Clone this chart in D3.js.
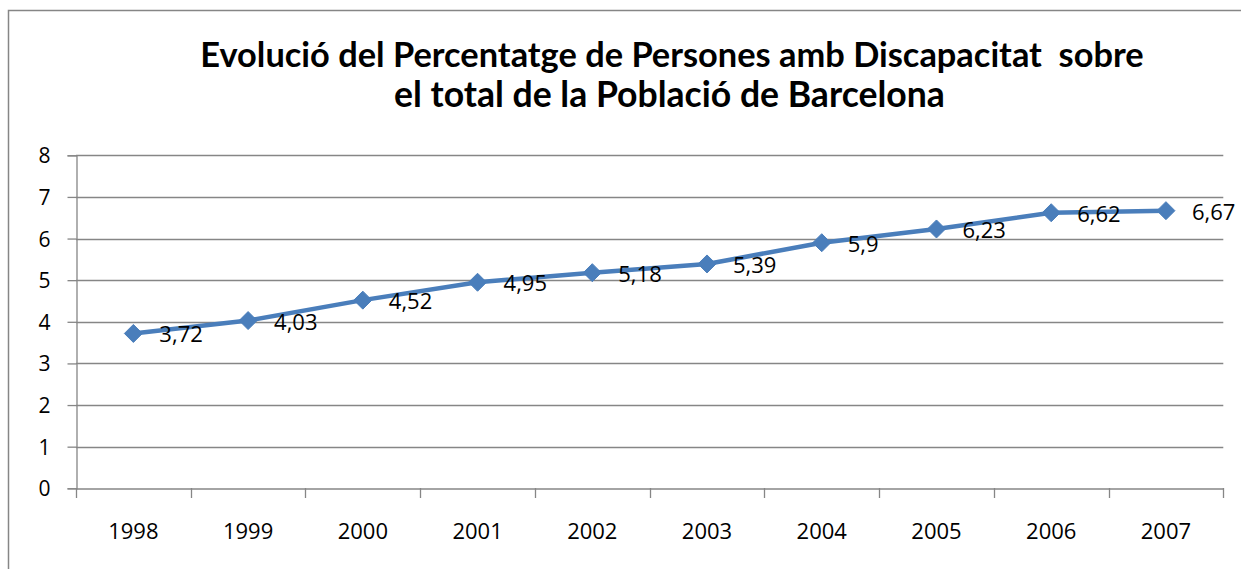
<!DOCTYPE html>
<html>
<head>
<meta charset="utf-8">
<script src="https://cdn.jsdelivr.net/npm/d3@7"></script>
<style>
html,body{margin:0;padding:0;background:#fff;}
svg{display:block;}
text{font-family:"Open Sans","Noto Sans",sans-serif;fill:#000;}
</style>
</head>
<body>
<svg id="chart" width="1241" height="569"></svg>
<script>
const titleLines = ["Evolució del Percentatge de Persones amb Discapacitat  sobre", "el total de la Població de Barcelona"];
const years = ["1998","1999","2000","2001","2002","2003","2004","2005","2006","2007"];
const values = [3.72, 4.03, 4.52, 4.95, 5.18, 5.39, 5.9, 6.23, 6.62, 6.67];
const labels = ["3,72","4,03","4,52","4,95","5,18","5,39","5,9","6,23","6,62","6,67"];
const yTicks = [0,1,2,3,4,5,6,7,8];

(function () {
const svg = d3.select("#chart");
const grey = "#868686";
const blue = "#4a7ebb";

// outer frame
svg.append("rect").attr("x", 8.5).attr("y", 10.5).attr("width", 1260).attr("height", 600)
  .attr("fill", "#fff").attr("stroke", grey).attr("stroke-width", 1.5);

// title
const titleTargets = [{w: 944, cx: 672, y: 67}, {w: 551, cx: 669.5, y: 107}];
titleLines.forEach((t, i) => {
  const el = svg.append("text").attr("x", titleTargets[i].cx).attr("y", titleTargets[i].y)
    .attr("text-anchor", "middle").style("font-weight", "bold").style("font-size", "30px")
    .style("font-family", "Lato, 'Open Sans', sans-serif")
    .style("white-space", "pre").text(t);
  const len = el.node().getComputedTextLength();
  el.style("font-size", (30 * titleTargets[i].w / len) + "px");
});

const pLeft = 76, pRight = 1223.3, pTop = 155.3, pBottom = 488.3;
const x = d3.scaleBand().domain(years).range([pLeft, pRight]);
const y = d3.scaleLinear().domain([0, 8]).range([pBottom, pTop]);

// gridlines
svg.append("g").selectAll("line").data(yTicks.filter(d => d > 0)).join("line")
  .attr("x1", pLeft).attr("x2", pRight)
  .attr("y1", d => Math.round(y(d)) + 0.5).attr("y2", d => Math.round(y(d)) + 0.5)
  .attr("stroke", grey).attr("stroke-width", 1.3);

// y axis
const yAxis = svg.append("g").attr("transform", `translate(${pLeft + 0.5},0)`)
  .call(d3.axisLeft(y).tickValues(yTicks).tickSize(9).tickPadding(17).tickFormat(d3.format("d")));
yAxis.select(".domain").attr("stroke", grey).attr("stroke-width", 1.3);
yAxis.selectAll(".tick line").attr("stroke", grey).attr("stroke-width", 1.3);
yAxis.selectAll(".tick text").style("font-size", "21px").attr("fill", "#000").attr("dy", "0.36em");

// x axis
const xAxis = svg.append("g").attr("transform", `translate(0,${Math.round(pBottom) + 0.5})`)
  .call(d3.axisBottom(x).tickSize(0).tickPadding(0));
xAxis.select(".domain").attr("stroke", grey).attr("stroke-width", 1.3);
xAxis.selectAll(".tick text").style("font-size", "22px").attr("fill", "#000")
  .attr("dy", 0).attr("y", 50);
// category boundary ticks
const bounds = years.map(d => x(d)).concat([pRight]);
svg.append("g").selectAll("line").data(bounds).join("line")
  .attr("x1", d => Math.round(d) + 0.5).attr("x2", d => Math.round(d) + 0.5)
  .attr("y1", Math.round(pBottom)).attr("y2", Math.round(pBottom) + 10)
  .attr("stroke", grey).attr("stroke-width", 1.3);

const cx = d => x(d) + x.bandwidth() / 2;

// line
const line = d3.line().x((d, i) => cx(years[i])).y(d => y(d));
svg.append("path").datum(values).attr("d", line)
  .attr("fill", "none").attr("stroke", blue).attr("stroke-width", 4.5).attr("stroke-linejoin", "round");

// markers
svg.append("g").selectAll("path").data(values).join("path")
  .attr("transform", (d, i) => `translate(${cx(years[i])},${y(d)})`)
  .attr("d", "M0,-9L9,0L0,9L-9,0Z").attr("fill", blue).attr("stroke", blue).attr("stroke-width", 1);

// data labels
svg.append("g").selectAll("text").data(values).join("text")
  .attr("x", (d, i) => cx(years[i]) + 26).attr("y", d => y(d) + 9)
  .style("font-size", "22px").text((d, i) => labels[i]);
})();
</script>
</body>
</html>
